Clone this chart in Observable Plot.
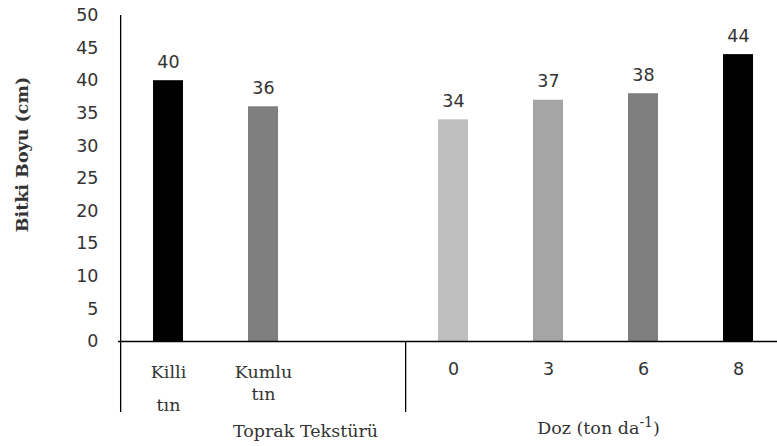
<!DOCTYPE html>
<html>
<head>
<meta charset="utf-8">
<script src="https://cdn.jsdelivr.net/npm/d3@7"></script>
<script src="https://cdn.jsdelivr.net/npm/@observablehq/plot@0.6"></script>
<style>
  html, body { margin: 0; padding: 0; background: #fff; overflow: hidden; }
  svg { display: block; }
</style>
</head>
<body>
<div id="chart"></div>
<script>
// Plant height by soil texture and by dose
const textures = ["Killi tın", "Kumlu tın"];
const textureHeights = [40, 36];
const doses = ["0", "3", "6", "8"];
const doseHeights = [34, 37, 38, 44];
const groupTitles = ["Toprak Tekstürü", "Doz (ton da-1)"];
const yTitle = "Bitki Boyu (cm)";
const yTicks = [0, 5, 10, 15, 20, 25, 30, 35, 40, 45, 50];

// bar shades per category
const shades = {
  "Killi tın": "#000000",
  "Kumlu tın": "#7f7f7f",
  "0": "#bfbfbf",
  "3": "#a5a5a5",
  "6": "#7f7f7f",
  "8": "#000000"
};

const GAP = "·gap·";
const slots = [...textures, GAP, ...doses];
const rows = [
  ...textures.map((k, i) => ({key: k, value: textureHeights[i]})),
  ...doses.map((k, i) => ({key: k, value: doseHeights[i]}))
];
const textureRows = rows.filter(d => textures.includes(d.key));
const doseRows = rows.filter(d => doses.includes(d.key));

const serif = "'DejaVu Serif', serif";
const sans = "'DejaVu Sans', sans-serif";
const ink = "#333333";
const numSize = 17.5;
const wordSize = 17.5;
const half = 47.86; // half a category step, in pixels

const chart = Plot.plot({
  width: 777,
  height: 446,
  marginLeft: 118,
  marginRight: 0,
  marginTop: 15,
  marginBottom: 105,
  style: {fontFamily: sans, fontSize: numSize + "px", color: ink, background: "#fff"},
  x: {domain: slots, range: [118, 788], paddingInner: 0.687, paddingOuter: 0.3435, axis: null},
  y: {domain: [0, 50], axis: null},
  marks: [
    // y tick labels
    Plot.text(yTicks, {y: d => d, frameAnchor: "left", textAnchor: "end", dx: -20, text: d => String(d), fill: ink, fontSize: numSize}),
    Plot.barY(rows, {x: "key", y: "value", fill: d => shades[d.key]}),
    Plot.text(rows, {x: "key", y: "value", text: d => String(d.value), dy: -13, lineAnchor: "bottom", fill: ink, fontSize: numSize}),
    // axis lines
    Plot.ruleY([0], {stroke: "#000", strokeWidth: 1.3}),
    Plot.ruleX([textures[0]], {dx: -half, stroke: "#000", strokeWidth: 1.3, insetBottom: -71}),
    Plot.ruleX([doses[0]], {dx: -half, stroke: "#000", strokeWidth: 1.3, insetTop: 326, insetBottom: -71}),
    // category labels
    Plot.text(textureRows, {x: "key", frameAnchor: "bottom", text: d => d.key.split(" ")[0], dy: 36, lineAnchor: "bottom", fontFamily: serif, fontSize: wordSize, fill: ink}),
    Plot.text(textureRows.filter(d => d.key === textures[0]), {x: "key", frameAnchor: "bottom", text: d => d.key.split(" ")[1], dy: 69, lineAnchor: "bottom", fontFamily: serif, fontSize: wordSize, fill: ink}),
    Plot.text(textureRows.filter(d => d.key === textures[1]), {x: "key", frameAnchor: "bottom", text: d => d.key.split(" ")[1], dy: 58, lineAnchor: "bottom", fontFamily: serif, fontSize: wordSize, fill: ink}),
    Plot.text(doseRows, {x: "key", frameAnchor: "bottom", text: "key", dy: 33, lineAnchor: "bottom", fontSize: numSize, fill: ink}),
    // group titles
    Plot.text([groupTitles[0]], {x: () => textures[1], frameAnchor: "bottom", text: d => d, dx: 42, dy: 95, lineAnchor: "bottom", fontFamily: serif, fontSize: wordSize, fill: ink}),
    Plot.text([groupTitles[1]], {x: () => doses[1], frameAnchor: "bottom", text: d => d, dx: 50, dy: 92, lineAnchor: "bottom", fontFamily: serif, fontSize: wordSize, fill: ink}),
    // y title
    Plot.text([yTitle], {frameAnchor: "left", textAnchor: "middle", text: d => d, rotate: -90, dx: -96, dy: -24, fontFamily: serif, fontWeight: "bold", fontSize: 17.5, fill: ink})
  ]
});

// raise the exponent in the dose unit
d3.select(chart).selectAll("text").each(function () {
  if (this.textContent === groupTitles[1]) {
    const t = d3.select(this);
    const [base, exp] = groupTitles[1].split("-1");
    t.text(null);
    t.append("tspan").text(base);
    t.append("tspan").attr("dy", "-0.45em").attr("font-size", "0.8em").text("-1");
    t.append("tspan").attr("dy", "0.36em").text(exp);
  }
});

document.getElementById("chart").append(chart);
</script>
</body>
</html>
